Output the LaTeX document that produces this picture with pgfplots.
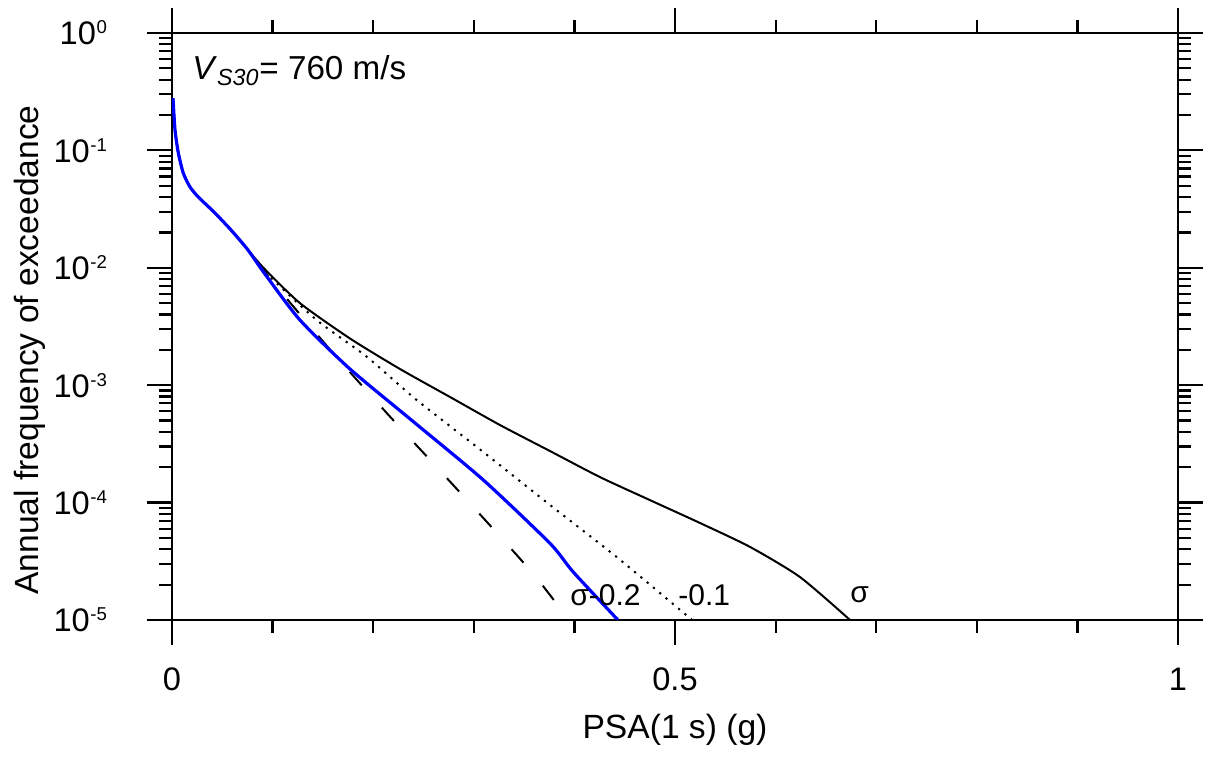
\documentclass[border=0pt]{standalone}
\usepackage{fontspec}
\setmainfont{Liberation Sans}
\usepackage{pgfplots}
\pgfplotsset{compat=1.18}
\newcommand\tp[1]{10\hspace{0.3pt}\raisebox{5.5pt}{\fontsize{9.3}{10}\selectfont #1}}
\begin{document}
\begin{tikzpicture}
\path[use as bounding box] (-86pt,-69pt) rectangle (522.5pt,310pt);
\begin{axis}[
  at={(0pt,0pt)}, anchor=south west,
  scale only axis, width=503pt, height=293.5pt,
  xmin=0, xmax=1, ymode=log, ymin=1e-5, ymax=1,
  xtick={0,0.5,1}, xticklabels={0,0.5,1},
  minor x tick num=4,
  ytick={1e-5,1e-4,1e-3,1e-2,1e-1,1},
  yticklabels={\tp{-5},\tp{-4},\tp{-3},\tp{-2},\tp{-1},\tp{0}},
  tick align=outside,
  major tick length=12.5pt, minor tick length=6.5pt,
  every tick/.style={black, line width=1.1pt},
  axis line style={line width=1.2pt},
  tick label style={font=\fontsize{16.3}{20}\selectfont},
  xticklabel shift=8pt, yticklabel shift=16.5pt,
  xlabel={PSA(1 s) (g)},
  ylabel={Annual frequency of exceedance},
  label style={font=\fontsize{16.8}{20}\selectfont},
  xlabel style={at={(axis description cs:0.5,-0.187)}, anchor=center},
  ylabel style={at={(axis description cs:-0.141,0.46)}, anchor=center},
  clip=true,
]
% sigma (solid)
\addplot[black, line width=1pt, smooth, tension=0.4] coordinates {
(0.001,0.279) (0.003,0.149) (0.0063,0.0951) (0.0112,0.0641) (0.0179,0.0488) (0.0261,0.0401)
(0.0427,0.0293) (0.0596,0.02056) (0.0755,0.01419) (0.0924,0.00970) (0.1272,0.00500)
(0.1769,0.00250) (0.2266,0.001374) (0.2763,0.000794) (0.3260,0.000458) (0.3757,0.000275)
(0.4254,0.000165) (0.4751,0.000105) (0.5249,6.70e-5) (0.5746,4.19e-5) (0.6243,2.32e-5)
(0.6740,1e-5)};
% sigma-0.1 (dotted)
\addplot[black, line width=1pt, dash pattern=on 1.1pt off 3pt, smooth, tension=0.4] coordinates {
(0.001,0.279) (0.003,0.149) (0.0063,0.0951) (0.0112,0.0641) (0.0179,0.0488) (0.0261,0.0401)
(0.0427,0.0293) (0.0596,0.02056) (0.0755,0.01419) (0.0941,0.00897) (0.1438,0.00359)
(0.1935,0.00175) (0.2432,0.000748) (0.3094,0.000270) (0.3757,9.55e-5) (0.4420,3.44e-5)
(0.5170,1e-5)};
% sigma-0.2 (dashed)
\addplot[black, line width=1pt, dash pattern=on 9pt off 15pt, smooth, tension=0.4] coordinates {
(0.001,0.279) (0.003,0.149) (0.0063,0.0951) (0.0112,0.0641) (0.0179,0.0488) (0.0261,0.0401)
(0.0427,0.0293) (0.0596,0.02056) (0.0755,0.01419) (0.1041,0.00690) (0.1603,0.00187)
(0.2167,0.000540) (0.2731,0.000162) (0.3293,4.80e-5) (0.3625,2.28e-5) (0.3946,1e-5)};
% blue
\addplot[blue, line width=1.6pt, smooth, tension=0.4] coordinates {
(0.001,0.279) (0.003,0.149) (0.0063,0.0951) (0.0112,0.0641) (0.0179,0.0488) (0.0261,0.0401)
(0.0427,0.0293) (0.0596,0.02056) (0.0755,0.01419) (0.0924,0.00885) (0.1272,0.00359)
(0.1769,0.001374) (0.2416,0.000476) (0.3094,0.000156) (0.3757,4.50e-5) (0.3989,2.56e-5)
(0.4433,1e-5)};
\node[anchor=base west, inner sep=0pt, font=\fontsize{16.6}{20}\selectfont] at (axis cs:0.0199,0.398) {\textit{V}\textsubscript{\textit{S30}}= 760 m/s};
\node[anchor=base west, inner sep=0pt, font=\fontsize{15}{18}\selectfont] at (axis cs:0.3956,1.34e-5) {σ-0.2};
\node[anchor=base west, inner sep=0pt, font=\fontsize{15}{18}\selectfont] at (axis cs:0.503,1.34e-5) {-0.1};
\node[anchor=base west, inner sep=0pt, font=\fontsize{15}{18}\selectfont] at (axis cs:0.674,1.42e-5) {σ};
\end{axis}
\end{tikzpicture}
\end{document}
